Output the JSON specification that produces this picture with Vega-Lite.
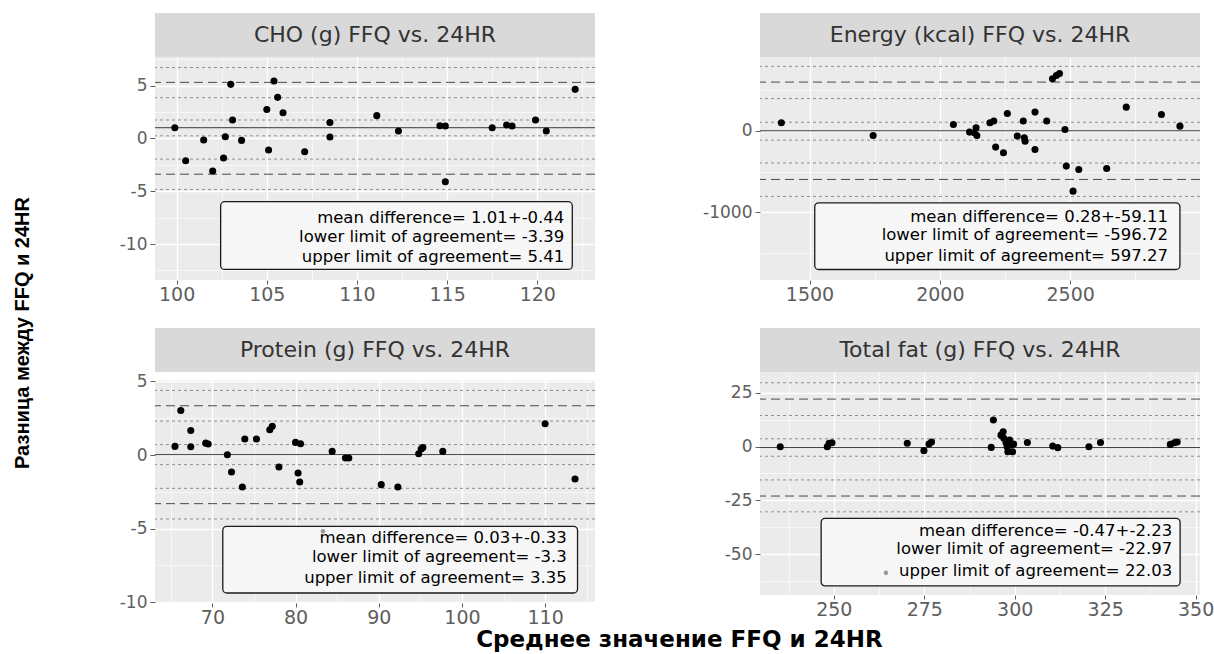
{
  "$schema": "https://vega.github.io/schema/vega-lite/v6.json",
  "background": "white",
  "padding": {"left": 13, "top": 13, "right": 0, "bottom": 0},
  "title": {"text": "Среднее значение FFQ и 24HR", "orient": "bottom", "anchor": "middle", "font": "DejaVu Sans", "fontSize": 23, "fontWeight": "bold", "color": "#000000", "offset": -4, "dx": 66},
  "config": {
    "view": {"stroke": null},
    "axis": {"labelFont": "DejaVu Sans", "labelColor": "#5e5e5e", "tickColor": "#5e5e5e", "domain": false, "gridColor": "#ffffff", "labelFlush": false, "labelOverlap": false},
    "axisX": {"labelFontSize": 19, "tickSize": 4, "labelPadding": 1},
    "axisY": {"labelFontSize": 17, "tickSize": 5, "labelPadding": 3}
  },
  "vconcat": [
    {
      "title": {"text": "Разница между FFQ и 24HR", "orient": "left", "anchor": "middle", "font": "Liberation Sans", "fontSize": 20, "fontWeight": "bold", "color": "#000000", "offset": 62, "dx": -10},
      "spacing": 18,
      "vconcat": [
        {
          "spacing": 104,
          "hconcat": [
            {
              "spacing": 0,
              "vconcat": [
                {"width": 440, "height": 44, "view": {"fill": "#D9D9D9", "stroke": null},
                 "data": {"values": [{"label": "CHO (g) FFQ vs. 24HR"}]},
                 "mark": {"type": "text", "font": "DejaVu Sans", "fontSize": 22, "color": "#333333"},
                 "encoding": {"text": {"field": "label"}}},
                {"width": 440, "height": 223, "view": {"fill": "#EBEBEB", "stroke": null},
                 "resolve": {"axis": {"x": "independent", "y": "independent"}},
                 "layer": [
                   {"data": {"values": [{"y": 1.01, "kind": "mean"}, {"y": 5.3, "kind": "limit"}, {"y": -3.39, "kind": "limit"}, {"y": 6.7, "kind": "ci"}, {"y": 3.85, "kind": "ci"}, {"y": 1.74, "kind": "ci"}, {"y": 0.24, "kind": "ci"}, {"y": -1.96, "kind": "ci"}, {"y": -4.83, "kind": "ci"}]},
                    "mark": {"type": "rule", "strokeWidth": 1},
                    "encoding": {
                      "y": {"field": "y", "type": "quantitative", "scale": {"domain": [-13.4, 7.7], "nice": false, "zero": false}, "axis": null},
                      "strokeDash": {"field": "kind", "type": "nominal", "scale": {"domain": ["mean", "limit", "ci"], "range": [[1, 0], [9, 5], [3, 3]]}, "legend": null},
                      "color": {"field": "kind", "type": "nominal", "scale": {"domain": ["mean", "limit", "ci"], "range": ["#3a3a3a", "#4a4a4a", "#8f8f8f"]}, "legend": null}
                    }},
                   {"data": {"values": [{"x1": 102.44, "x2": 121.94, "y1": -5.99, "y2": -12.4}]},
                    "mark": {"type": "rect", "fill": "#F7F7F7", "stroke": "#1a1a1a", "strokeWidth": 1.3, "cornerRadius": 4},
                    "encoding": {
                      "x": {"field": "x1", "type": "quantitative", "scale": {"domain": [98.8, 123.2], "nice": false, "zero": false}, "axis": {"orient": "bottom", "values": [102.5, 107.5, 112.5, 117.5, 122.5], "grid": true, "gridWidth": 0.6, "labels": false, "ticks": false, "title": null, "minExtent": 0, "maxExtent": 0}},
                      "x2": {"field": "x2"},
                      "y": {"field": "y1", "type": "quantitative", "scale": {"domain": [-13.4, 7.7], "nice": false, "zero": false}, "axis": {"orient": "left", "values": [-12.5, -7.5, -2.5, 2.5, 7.5], "grid": true, "gridWidth": 0.6, "labels": false, "ticks": false, "title": null, "minExtent": 0, "maxExtent": 0}},
                      "y2": {"field": "y2"}
                    }},
                   {"data": {"values": [{"x": 121.5, "y": -7.54, "label": "mean  difference=  1.01+-0.44"}, {"x": 121.5, "y": -9.34, "label": "lower limit of agreement=  -3.39"}, {"x": 121.5, "y": -11.23, "label": "upper limit of agreement=  5.41"}]},
                    "mark": {"type": "text", "align": "right", "baseline": "middle", "font": "DejaVu Sans", "fontSize": 16.5, "color": "#000000"},
                    "encoding": {
                      "x": {"field": "x", "type": "quantitative", "scale": {"domain": [98.8, 123.2], "nice": false, "zero": false}, "axis": null},
                      "y": {"field": "y", "type": "quantitative", "scale": {"domain": [-13.4, 7.7], "nice": false, "zero": false}, "axis": null},
                      "text": {"field": "label"}
                    }},
                   {"data": {"values": [{"x":99.9,"y":1.01},{"x":100.5,"y":-2.11},{"x":101.5,"y":-0.16},{"x":102.0,"y":-3.09},{"x":102.6,"y":-1.86},{"x":102.7,"y":0.16},{"x":103.0,"y":5.11},{"x":103.1,"y":1.74},{"x":103.6,"y":-0.19},{"x":105.0,"y":2.74},{"x":105.1,"y":-1.10},{"x":105.4,"y":5.43},{"x":105.6,"y":3.88},{"x":105.9,"y":2.43},{"x":107.1,"y":-1.26},{"x":108.5,"y":1.51},{"x":108.5,"y":0.13},{"x":111.1,"y":2.15},{"x":112.3,"y":0.69},{"x":114.6,"y":1.2},{"x":114.9,"y":1.17},{"x":114.9,"y":-4.1},{"x":117.5,"y":1.01},{"x":118.3,"y":1.26},{"x":118.6,"y":1.17},{"x":119.9,"y":1.74},{"x":120.5,"y":0.69},{"x":122.1,"y":4.64}]},
                    "mark": {"type": "circle", "size": 50, "color": "#000000", "opacity": 1},
                    "encoding": {
                      "x": {"field": "x", "type": "quantitative", "scale": {"domain": [98.8, 123.2], "nice": false, "zero": false}, "axis": {"orient": "bottom", "values": [100, 105, 110, 115, 120], "labelExpr": "toString(datum.value)", "grid": true, "gridWidth": 1.3, "title": null, "minExtent": 30, "maxExtent": 30}},
                      "y": {"field": "y", "type": "quantitative", "scale": {"domain": [-13.4, 7.7], "nice": false, "zero": false}, "axis": {"orient": "left", "values": [-10, -5, 0, 5], "labelExpr": "toString(datum.value)", "grid": true, "gridWidth": 1.3, "title": null, "minExtent": 60, "maxExtent": 60}}
                    }}
                 ]}
              ]
            },
            {
              "spacing": 0,
              "vconcat": [
                {"width": 440, "height": 44, "view": {"fill": "#D9D9D9", "stroke": null},
                 "data": {"values": [{"label": "Energy (kcal) FFQ vs. 24HR"}]},
                 "mark": {"type": "text", "font": "DejaVu Sans", "fontSize": 22, "color": "#333333"},
                 "encoding": {"text": {"field": "label"}}},
                {"width": 440, "height": 223, "view": {"fill": "#EBEBEB", "stroke": null},
                 "resolve": {"axis": {"x": "independent", "y": "independent"}},
                 "layer": [
                   {"data": {"values": [{"y": 0.28, "kind": "mean"}, {"y": 597.27, "kind": "limit"}, {"y": -596.72, "kind": "limit"}, {"y": 790, "kind": "ci"}, {"y": 395, "kind": "ci"}, {"y": 105, "kind": "ci"}, {"y": -115, "kind": "ci"}, {"y": -395, "kind": "ci"}, {"y": -805, "kind": "ci"}]},
                    "mark": {"type": "rule", "strokeWidth": 1},
                    "encoding": {
                      "y": {"field": "y", "type": "quantitative", "scale": {"domain": [-1830, 905], "nice": false, "zero": false}, "axis": null},
                      "strokeDash": {"field": "kind", "type": "nominal", "scale": {"domain": ["mean", "limit", "ci"], "range": [[1, 0], [9, 5], [3, 3]]}, "legend": null},
                      "color": {"field": "kind", "type": "nominal", "scale": {"domain": ["mean", "limit", "ci"], "range": ["#3a3a3a", "#4a4a4a", "#8f8f8f"]}, "legend": null}
                    }},
                   {"data": {"values": [{"x1": 1520, "x2": 2921, "y1": -883, "y2": -1701}]},
                    "mark": {"type": "rect", "fill": "#F7F7F7", "stroke": "#1a1a1a", "strokeWidth": 1.3, "cornerRadius": 4},
                    "encoding": {
                      "x": {"field": "x1", "type": "quantitative", "scale": {"domain": [1310, 2998], "nice": false, "zero": false}, "axis": {"orient": "bottom", "values": [1750, 2250, 2750], "grid": true, "gridWidth": 0.6, "labels": false, "ticks": false, "title": null, "minExtent": 0, "maxExtent": 0}},
                      "x2": {"field": "x2"},
                      "y": {"field": "y1", "type": "quantitative", "scale": {"domain": [-1830, 905], "nice": false, "zero": false}, "axis": {"orient": "left", "values": [-1500, -500, 500], "grid": true, "gridWidth": 0.6, "labels": false, "ticks": false, "title": null, "minExtent": 0, "maxExtent": 0}},
                      "y2": {"field": "y2"}
                    }},
                   {"data": {"values": [{"x": 2875, "y": -1055, "label": "mean  difference=  0.28+-59.11"}, {"x": 2875, "y": -1284, "label": "lower limit of agreement=  -596.72"}, {"x": 2875, "y": -1537, "label": "upper limit of agreement=  597.27"}]},
                    "mark": {"type": "text", "align": "right", "baseline": "middle", "font": "DejaVu Sans", "fontSize": 16.5, "color": "#000000"},
                    "encoding": {
                      "x": {"field": "x", "type": "quantitative", "scale": {"domain": [1310, 2998], "nice": false, "zero": false}, "axis": null},
                      "y": {"field": "y", "type": "quantitative", "scale": {"domain": [-1830, 905], "nice": false, "zero": false}, "axis": null},
                      "text": {"field": "label"}
                    }},
                   {"data": {"values": [{"x":1392,"y":98},{"x":1744,"y":-57},{"x":2052,"y":78},{"x":2114,"y":-16},{"x":2132,"y":-25},{"x":2139,"y":37},{"x":2142,"y":-57},{"x":2192,"y":98},{"x":2207,"y":119},{"x":2214,"y":-200},{"x":2244,"y":-270},{"x":2259,"y":213},{"x":2297,"y":-65},{"x":2320,"y":119},{"x":2324,"y":-86},{"x":2327,"y":-127},{"x":2365,"y":229},{"x":2365,"y":-229},{"x":2410,"y":119},{"x":2432,"y":638},{"x":2447,"y":679},{"x":2459,"y":703},{"x":2480,"y":16},{"x":2485,"y":-433},{"x":2511,"y":-740},{"x":2533,"y":-474},{"x":2640,"y":-462},{"x":2715,"y":290},{"x":2850,"y":200},{"x":2921,"y":57}]},
                    "mark": {"type": "circle", "size": 50, "color": "#000000", "opacity": 1},
                    "encoding": {
                      "x": {"field": "x", "type": "quantitative", "scale": {"domain": [1310, 2998], "nice": false, "zero": false}, "axis": {"orient": "bottom", "values": [1500, 2000, 2500], "labelExpr": "toString(datum.value)", "grid": true, "gridWidth": 1.3, "title": null, "minExtent": 30, "maxExtent": 30}},
                      "y": {"field": "y", "type": "quantitative", "scale": {"domain": [-1830, 905], "nice": false, "zero": false}, "axis": {"orient": "left", "values": [-1000, 0], "labelExpr": "toString(datum.value)", "grid": true, "gridWidth": 1.3, "title": null, "minExtent": 60, "maxExtent": 60}}
                    }}
                 ]}
              ]
            }
          ]
        },
        {
          "spacing": 104,
          "hconcat": [
            {
              "spacing": 0,
              "vconcat": [
                {"width": 440, "height": 44, "view": {"fill": "#D9D9D9", "stroke": null},
                 "data": {"values": [{"label": "Protein (g) FFQ vs. 24HR"}]},
                 "mark": {"type": "text", "font": "DejaVu Sans", "fontSize": 22, "color": "#333333"},
                 "encoding": {"text": {"field": "label"}}},
                {"width": 440, "height": 223, "view": {"fill": "#EBEBEB", "stroke": null},
                 "resolve": {"axis": {"x": "independent", "y": "independent"}},
                 "layer": [
                   {"data": {"values": [{"y": 0.03, "kind": "mean"}, {"y": 3.35, "kind": "limit"}, {"y": -3.3, "kind": "limit"}, {"y": 4.39, "kind": "ci"}, {"y": 2.31, "kind": "ci"}, {"y": 0.71, "kind": "ci"}, {"y": -0.65, "kind": "ci"}, {"y": -2.26, "kind": "ci"}, {"y": -4.34, "kind": "ci"}]},
                    "mark": {"type": "rule", "strokeWidth": 1},
                    "encoding": {
                      "y": {"field": "y", "type": "quantitative", "scale": {"domain": [-10.05, 5.1], "nice": false, "zero": false}, "axis": null},
                      "strokeDash": {"field": "kind", "type": "nominal", "scale": {"domain": ["mean", "limit", "ci"], "range": [[1, 0], [9, 5], [3, 3]]}, "legend": null},
                      "color": {"field": "kind", "type": "nominal", "scale": {"domain": ["mean", "limit", "ci"], "range": ["#3a3a3a", "#4a4a4a", "#8f8f8f"]}, "legend": null}
                    }},
                   {"data": {"values": [{"x1": 71.25, "x2": 113.9, "y1": -4.84, "y2": -9.37}]},
                    "mark": {"type": "rect", "fill": "#F7F7F7", "stroke": "#1a1a1a", "strokeWidth": 1.3, "cornerRadius": 4},
                    "encoding": {
                      "x": {"field": "x1", "type": "quantitative", "scale": {"domain": [63.1, 116.0], "nice": false, "zero": false}, "axis": {"orient": "bottom", "values": [65, 75, 85, 95, 105, 115], "grid": true, "gridWidth": 0.6, "labels": false, "ticks": false, "title": null, "minExtent": 0, "maxExtent": 0}},
                      "x2": {"field": "x2"},
                      "y": {"field": "y1", "type": "quantitative", "scale": {"domain": [-10.05, 5.1], "nice": false, "zero": false}, "axis": {"orient": "left", "values": [-7.5, -2.5, 2.5], "grid": true, "gridWidth": 0.6, "labels": false, "ticks": false, "title": null, "minExtent": 0, "maxExtent": 0}},
                      "y2": {"field": "y2"}
                    }},
                   {"data": {"values": [{"x": 112.6, "y": -5.63, "label": "mean  difference=  0.03+-0.33"}, {"x": 112.6, "y": -6.95, "label": "lower limit of agreement=  -3.3"}, {"x": 112.6, "y": -8.35, "label": "upper limit of agreement=  3.35"}]},
                    "mark": {"type": "text", "align": "right", "baseline": "middle", "font": "DejaVu Sans", "fontSize": 16.5, "color": "#000000"},
                    "encoding": {
                      "x": {"field": "x", "type": "quantitative", "scale": {"domain": [63.1, 116.0], "nice": false, "zero": false}, "axis": null},
                      "y": {"field": "y", "type": "quantitative", "scale": {"domain": [-10.05, 5.1], "nice": false, "zero": false}, "axis": null},
                      "text": {"field": "label"}
                    }},
                   {"data": {"values": [{"x": 83.3, "y": -5.18}]},
                    "mark": {"type": "circle", "size": 22, "color": "#9a9a9a", "opacity": 1},
                    "encoding": {
                      "x": {"field": "x", "type": "quantitative", "scale": {"domain": [63.1, 116.0], "nice": false, "zero": false}, "axis": null},
                      "y": {"field": "y", "type": "quantitative", "scale": {"domain": [-10.05, 5.1], "nice": false, "zero": false}, "axis": null}
                    }},
                   {"data": {"values": [{"x":65.5,"y":0.59},{"x":66.2,"y":3.03},{"x":67.4,"y":1.67},{"x":67.4,"y":0.57},{"x":69.2,"y":0.81},{"x":69.5,"y":0.75},{"x":71.8,"y":0.02},{"x":72.3,"y":-1.15},{"x":73.6,"y":-2.17},{"x":73.9,"y":1.09},{"x":75.3,"y":1.09},{"x":76.9,"y":1.72},{"x":77.2,"y":1.95},{"x":78.0,"y":-0.81},{"x":80.0,"y":0.86},{"x":80.6,"y":0.77},{"x":80.3,"y":-1.22},{"x":80.5,"y":-1.83},{"x":84.4,"y":0.25},{"x":86.0,"y":-0.2},{"x":86.4,"y":-0.2},{"x":90.3,"y":-2.01},{"x":92.3,"y":-2.17},{"x":94.8,"y":0.09},{"x":95.1,"y":0.41},{"x":95.3,"y":0.52},{"x":97.7,"y":0.25},{"x":110.0,"y":2.13},{"x":113.6,"y":-1.63}]},
                    "mark": {"type": "circle", "size": 50, "color": "#000000", "opacity": 1},
                    "encoding": {
                      "x": {"field": "x", "type": "quantitative", "scale": {"domain": [63.1, 116.0], "nice": false, "zero": false}, "axis": {"orient": "bottom", "values": [70, 80, 90, 100, 110], "labelExpr": "toString(datum.value)", "grid": true, "gridWidth": 1.3, "title": null, "minExtent": 30, "maxExtent": 30}},
                      "y": {"field": "y", "type": "quantitative", "scale": {"domain": [-10.05, 5.1], "nice": false, "zero": false}, "axis": {"orient": "left", "values": [-10, -5, 0, 5], "labelExpr": "toString(datum.value)", "grid": true, "gridWidth": 1.3, "title": null, "minExtent": 60, "maxExtent": 60}}
                    }}
                 ]}
              ]
            },
            {
              "spacing": 0,
              "vconcat": [
                {"width": 440, "height": 44, "view": {"fill": "#D9D9D9", "stroke": null},
                 "data": {"values": [{"label": "Total fat (g) FFQ vs. 24HR"}]},
                 "mark": {"type": "text", "font": "DejaVu Sans", "fontSize": 22, "color": "#333333"},
                 "encoding": {"text": {"field": "label"}}},
                {"width": 440, "height": 223, "view": {"fill": "#EBEBEB", "stroke": null},
                 "resolve": {"axis": {"x": "independent", "y": "independent"}},
                 "layer": [
                   {"data": {"values": [{"y": -0.47, "kind": "mean"}, {"y": 22.03, "kind": "limit"}, {"y": -22.97, "kind": "limit"}, {"y": 29.6, "kind": "ci"}, {"y": 14.4, "kind": "ci"}, {"y": 3.6, "kind": "ci"}, {"y": -4.5, "kind": "ci"}, {"y": -15.5, "kind": "ci"}, {"y": -30.3, "kind": "ci"}]},
                    "mark": {"type": "rule", "strokeWidth": 1},
                    "encoding": {
                      "y": {"field": "y", "type": "quantitative", "scale": {"domain": [-68.9, 34.6], "nice": false, "zero": false}, "axis": null},
                      "strokeDash": {"field": "kind", "type": "nominal", "scale": {"domain": ["mean", "limit", "ci"], "range": [[1, 0], [9, 5], [3, 3]]}, "legend": null},
                      "color": {"field": "kind", "type": "nominal", "scale": {"domain": ["mean", "limit", "ci"], "range": ["#3a3a3a", "#4a4a4a", "#8f8f8f"]}, "legend": null}
                    }},
                   {"data": {"values": [{"x1": 246.5, "x2": 345.7, "y1": -33.3, "y2": -64.7}]},
                    "mark": {"type": "rect", "fill": "#F7F7F7", "stroke": "#1a1a1a", "strokeWidth": 1.3, "cornerRadius": 4},
                    "encoding": {
                      "x": {"field": "x1", "type": "quantitative", "scale": {"domain": [229.6, 351.2], "nice": false, "zero": false}, "axis": {"orient": "bottom", "values": [237.5, 262.5, 287.5, 312.5, 337.5], "grid": true, "gridWidth": 0.6, "labels": false, "ticks": false, "title": null, "minExtent": 0, "maxExtent": 0}},
                      "x2": {"field": "x2"},
                      "y": {"field": "y1", "type": "quantitative", "scale": {"domain": [-68.9, 34.6], "nice": false, "zero": false}, "axis": {"orient": "left", "values": [-62.5, -37.5, -12.5, 12.5], "grid": true, "gridWidth": 0.6, "labels": false, "ticks": false, "title": null, "minExtent": 0, "maxExtent": 0}},
                      "y2": {"field": "y2"}
                    }},
                   {"data": {"values": [{"x": 343.5, "y": -39.0, "label": "mean  difference=  -0.47+-2.23"}, {"x": 343.5, "y": -47.7, "label": "lower limit of agreement=  -22.97"}, {"x": 343.5, "y": -57.6, "label": "upper limit of agreement=  22.03"}]},
                    "mark": {"type": "text", "align": "right", "baseline": "middle", "font": "DejaVu Sans", "fontSize": 16.5, "color": "#000000"},
                    "encoding": {
                      "x": {"field": "x", "type": "quantitative", "scale": {"domain": [229.6, 351.2], "nice": false, "zero": false}, "axis": null},
                      "y": {"field": "y", "type": "quantitative", "scale": {"domain": [-68.9, 34.6], "nice": false, "zero": false}, "axis": null},
                      "text": {"field": "label"}
                    }},
                   {"data": {"values": [{"x": 264.4, "y": -58.6}]},
                    "mark": {"type": "circle", "size": 22, "color": "#9a9a9a", "opacity": 1},
                    "encoding": {
                      "x": {"field": "x", "type": "quantitative", "scale": {"domain": [229.6, 351.2], "nice": false, "zero": false}, "axis": null},
                      "y": {"field": "y", "type": "quantitative", "scale": {"domain": [-68.9, 34.6], "nice": false, "zero": false}, "axis": null}
                    }},
                   {"data": {"values": [{"x":235.2,"y":-0.1},{"x":248.2,"y":-0.1},{"x":248.7,"y":1.5},{"x":249.5,"y":1.8},{"x":270.3,"y":1.5},{"x":274.9,"y":-1.9},{"x":276.3,"y":1.2},{"x":277.0,"y":2.1},{"x":293.5,"y":-0.4},{"x":294.1,"y":12.3},{"x":296.2,"y":5.3},{"x":296.8,"y":6.9},{"x":297.0,"y":3.8},{"x":297.6,"y":1.8},{"x":297.9,"y":-0.1},{"x":298.1,"y":-2.4},{"x":298.6,"y":3.0},{"x":299.0,"y":0.7},{"x":299.4,"y":-2.4},{"x":299.7,"y":1.2},{"x":303.5,"y":1.9},{"x":310.5,"y":0.2},{"x":311.9,"y":-0.5},{"x":320.5,"y":-0.1},{"x":323.7,"y":1.9},{"x":343.0,"y":1.0},{"x":344.1,"y":1.8},{"x":344.9,"y":2.1}]},
                    "mark": {"type": "circle", "size": 50, "color": "#000000", "opacity": 1},
                    "encoding": {
                      "x": {"field": "x", "type": "quantitative", "scale": {"domain": [229.6, 351.2], "nice": false, "zero": false}, "axis": {"orient": "bottom", "values": [250, 275, 300, 325, 350], "labelExpr": "toString(datum.value)", "grid": true, "gridWidth": 1.3, "title": null, "minExtent": 30, "maxExtent": 30}},
                      "y": {"field": "y", "type": "quantitative", "scale": {"domain": [-68.9, 34.6], "nice": false, "zero": false}, "axis": {"orient": "left", "values": [-50, -25, 0, 25], "labelExpr": "toString(datum.value)", "grid": true, "gridWidth": 1.3, "title": null, "minExtent": 60, "maxExtent": 60}}
                    }}
                 ]}
              ]
            }
          ]
        }
      ]
    }
  ]
}
